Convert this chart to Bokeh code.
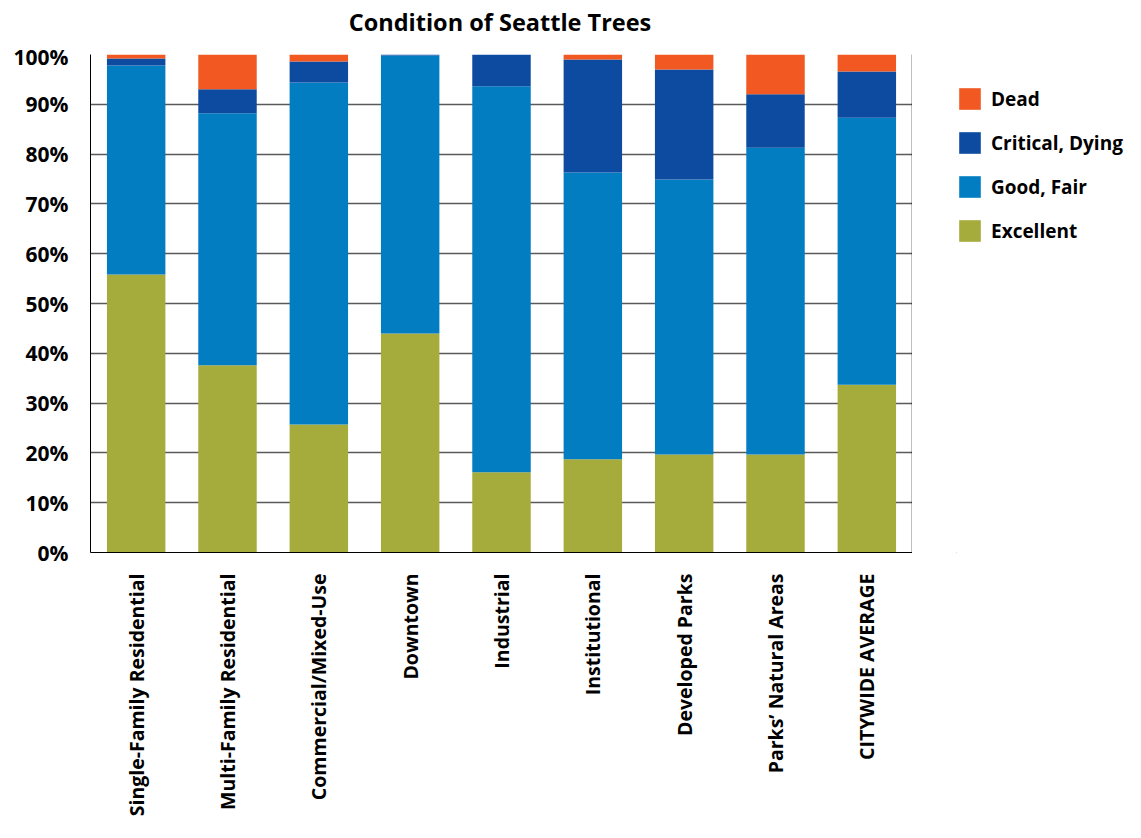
from bokeh.plotting import figure
from bokeh.models import (Legend, LegendItem, PrintfTickFormatter, LinearAxis, Div,
                          FixedTicker, Range1d, FactorRange, ColumnDataSource)
from bokeh.layouts import row, column
from bokeh.embed import file_html
from bokeh.resources import INLINE
import math

title_text = "Condition of Seattle Trees"
categories = ["Single-Family Residential", "Multi-Family Residential",
              "Commercial/Mixed-Use", "Downtown", "Industrial", "Institutional",
              "Developed Parks", "Parks\u2019 Natural Areas", "CITYWIDE AVERAGE"]
excellent = [55.8, 37.6, 25.7, 44.0, 16.1, 18.7, 19.7, 19.7, 33.7]
good_fair = [42.0, 50.6, 68.7, 55.8, 77.5, 57.6, 55.2, 61.6, 53.6]
critical = [1.4, 4.8, 4.2, 0.2, 6.4, 22.7, 22.1, 10.7, 9.3]
dead = [0.8, 7.0, 1.4, 0.0, 0.0, 1.0, 3.0, 8.0, 3.4]
series_names = ["Excellent", "Good, Fair", "Critical, Dying", "Dead"]
colors = ["#A6AC3B", "#027DC2", "#0D4BA0", "#F15822"]
y_ticks = [0, 10, 20, 30, 40, 50, 60, 70, 80, 90, 100]

FONT = "Open Sans"

source = ColumnDataSource(data=dict(cat=categories, Excellent=excellent,
                                    **{"Good, Fair": good_fair,
                                       "Critical, Dying": critical,
                                       "Dead": dead}))

# title above the chart
title = Div(text=title_text, width=1000, height=42, margin=0,
            styles={"font-family": FONT, "font-size": "23.5px",
                    "font-weight": "bold", "color": "#000000",
                    "text-align": "center", "line-height": "28px",
                    "padding-top": "8px", "box-sizing": "border-box"})

p = figure(x_range=FactorRange(*categories, range_padding=0),
           y_range=Range1d(0, 100),
           width=912, height=780, output_backend="svg", toolbar_location=None,
           min_border_left=90, min_border_right=0, min_border_top=12,
           min_border_bottom=270)
p.title.text_font_size = "0px"
p.title.standoff = 0

p.vbar_stack(series_names, x="cat", width=0.64, source=source,
             color=colors, line_color=None)

p.outline_line_color = None
p.background_fill_color = "white"

# grid
p.xgrid.grid_line_color = None
p.ygrid.ticker = FixedTicker(ticks=y_ticks)
p.ygrid.grid_line_color = "#5a5a5a"
p.ygrid.grid_line_width = 1.5

# y axis
p.yaxis.ticker = FixedTicker(ticks=y_ticks)
p.yaxis.formatter = PrintfTickFormatter(format="%d%%")
p.yaxis.major_tick_line_color = None
p.yaxis.minor_tick_line_color = None
p.yaxis.major_label_standoff = 16
p.yaxis.major_label_text_font = FONT
p.yaxis.major_label_text_font_style = "bold"
p.yaxis.major_label_text_font_size = "21px"
p.yaxis.major_label_text_color = "#000000"
p.yaxis.axis_line_color = "#000000"

# x axis
p.xaxis.major_tick_line_color = None
p.xaxis.major_label_orientation = math.pi / 2
p.xaxis.major_label_standoff = 15
p.xaxis.major_label_text_font = FONT
p.xaxis.major_label_text_font_style = "bold"
p.xaxis.major_label_text_font_size = "19.5px"
p.xaxis.major_label_text_color = "#000000"
p.xaxis.axis_line_color = "#000000"

# right border line of the plot area (an axis with no ticks or labels)
right_axis = LinearAxis(ticker=FixedTicker(ticks=[]),
                        major_tick_line_color=None, minor_tick_line_color=None,
                        major_tick_out=0, major_tick_in=0,
                        minor_tick_out=0, minor_tick_in=0,
                        major_label_standoff=0,
                        axis_line_color="#000000", axis_line_width=1.5)
p.add_layout(right_axis, "right")

# legend panel to the right of the chart (its frame aligns with the chart's frame)
lg = figure(width=213, height=780, output_backend="svg", toolbar_location=None,
            x_range=Range1d(0, 1), y_range=Range1d(0, 1),
            x_axis_type=None, y_axis_type=None,
            min_border_left=44, min_border_right=0,
            min_border_top=12, min_border_bottom=0)
lg.title.text_font_size = "0px"
lg.title.standoff = 0
lg.outline_line_color = None
lg.xgrid.grid_line_color = None
lg.ygrid.grid_line_color = None
# swatch renderers for the legend; their bars lie outside the visible range
proxy = ColumnDataSource(data=dict(x=[-5], top=[-5]))
swatches = [lg.vbar(x="x", top="top", width=0.1, source=proxy,
                    color=c, line_color=None) for c in colors]

items = [LegendItem(label=series_names[i], renderers=[swatches[i]]) for i in [3, 2, 1, 0]]
legend = Legend(items=items, location=(0, 308), orientation="vertical",
                glyph_width=27, glyph_height=27, label_standoff=8, spacing=17,
                padding=0, margin=0, border_line_color=None,
                background_fill_alpha=0,
                label_text_font=FONT, label_text_font_style="bold",
                label_text_font_size="19px", label_text_color="#000000")
lg.add_layout(legend, "center")

layout = column(title, row(p, lg))
open("out.html", "w").write(file_html(layout, INLINE))
